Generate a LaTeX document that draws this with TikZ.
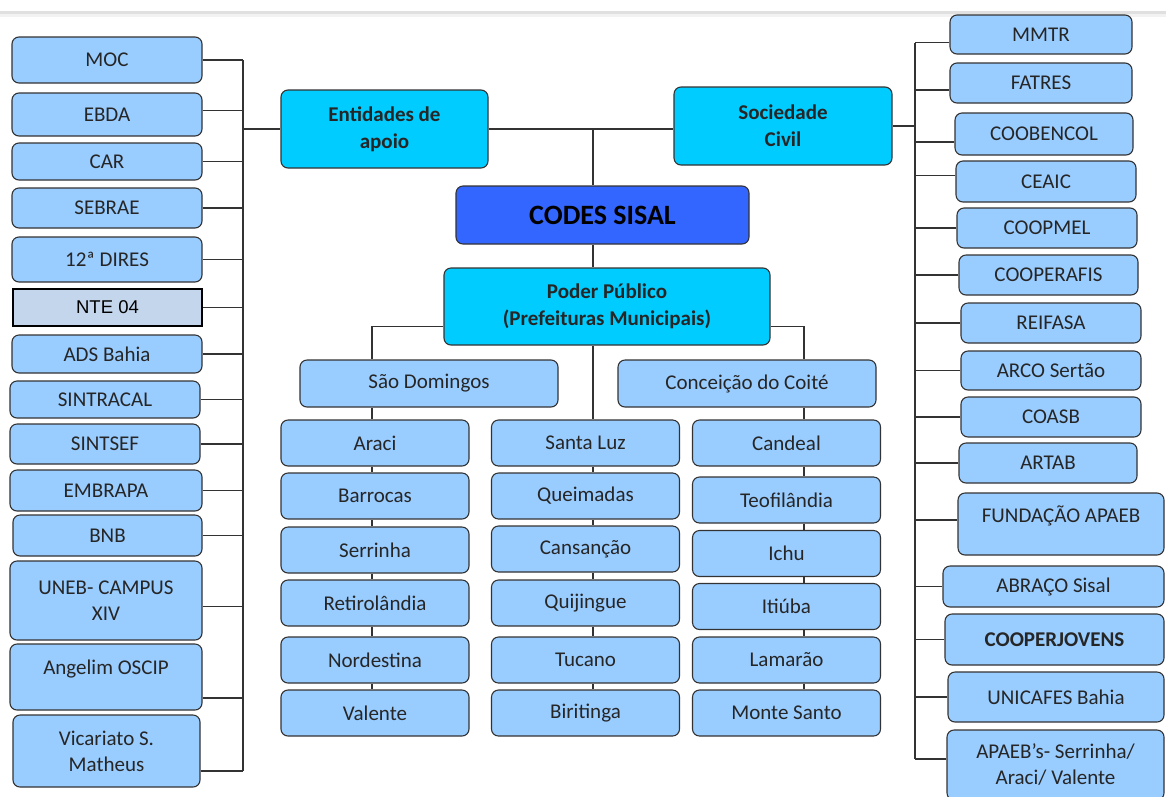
\documentclass[tikz,border=0pt]{standalone}
\usepackage{fontspec}
\setmainfont{Carlito}
\newfontfamily\arialfont{Liberation Sans}
\usepackage{xcolor}
\usepackage{tikz}
\usetikzlibrary{calc, positioning}

\definecolor{azulcaixa}{HTML}{99CCFF}
\definecolor{ciano}{HTML}{00CCFF}
\definecolor{azulcodes}{HTML}{3366FF}
\definecolor{cinzante}{HTML}{C3D6EC}

\tikzset{
    sz/.style 2 args={minimum width=#1pt, minimum height=#2pt},
    orgao/.style={draw=black!80, line width=1.1pt, rounded corners=7pt, fill=azulcaixa,
        align=center, inner sep=0pt, text=black!85, font=\fontsize{21}{26}\selectfont},
    municipio/.style={orgao, sz={188}{46}},
    eixo/.style={orgao, fill=ciano, font=\fontsize{21}{27}\selectfont\bfseries},
    lig/.style={draw=black!80, line width=1.1pt}
}

\begin{document}
\begin{tikzpicture}[x=1pt, y=-1pt]
    \useasboundingbox (0,0) rectangle (1166,796);
    \fill[white] (0,0) rectangle (1166,796);
    % Vạch xám phía trên
    \fill[black!12] (0,11) rectangle (1166,14);
    \fill[black!5] (0,14) rectangle (1166,17);

    % Trục nối
    \coordinate (lbus) at (243,0);
    \coordinate (rbus) at (915,0);
    \coordinate (topo) at (593,128);
    \coordinate (c1) at (372,0);
    \coordinate (c2) at (593,0);
    \coordinate (c3) at (804,0);

    % Khối trung tâm
    \node[eixo, sz={207}{78}] (ent) at (384.5,129) {Entidades de\\apoio};
    \node[eixo, sz={218}{78}] (soc) at (783,126) {Sociedade\\Civil};
    \node[orgao, fill=azulcodes, sz={293}{58}, font=\fontsize{28}{32}\selectfont\bfseries, text=black]
        (codes) at (602.5,215) {CODES SISAL};
    \node[eixo, sz={326}{77}] (poder) at (607,306.5) {Poder Público\\(Prefeituras Municipais)};
    \node[orgao, sz={258}{47}] (sd) at (429,383.5) {São Domingos};
    \node[orgao, sz={258}{47}] (cc) at (747,383.5) {Conceição do Coité};

    % Các huyện
    \node[municipio] (araci) at (375,443) {Araci};
    \node[municipio] (barrocas) at (375,496) {Barrocas};
    \node[municipio] (serrinha) at (375,550) {Serrinha};
    \node[municipio] (retiro) at (375,603) {Retirolândia};
    \node[municipio] (nordestina) at (375,660) {Nordestina};
    \node[municipio] (valente) at (375,713) {Valente};

    \node[municipio] (santaluz) at (585.5,443) {Santa Luz};
    \node[municipio] (queimadas) at (585.5,496) {Queimadas};
    \node[municipio] (cansancao) at (585.5,549) {Cansanção};
    \node[municipio] (quijingue) at (585.5,603) {Quijingue};
    \node[municipio] (tucano) at (585.5,660) {Tucano};
    \node[municipio] (biritinga) at (585.5,713) {Biritinga};

    \node[municipio] (candeal) at (786.5,443) {Candeal};
    \node[municipio] (teofilandia) at (786.5,500) {Teofilândia};
    \node[municipio] (ichu) at (786.5,553.5) {Ichu};
    \node[municipio] (itiuba) at (786.5,606.5) {Itiúba};
    \node[municipio] (lamarao) at (786.5,660) {Lamarão};
    \node[municipio] (montesanto) at (786.5,713) {Monte Santo};

    % Cột bên trái
    \node[orgao, sz={190}{46}] (moc) at (107,60) {MOC};
    \node[orgao, sz={190}{43}] (ebda) at (107,114.5) {EBDA};
    \node[orgao, sz={190}{37}] (car) at (107,161.5) {CAR};
    \node[orgao, sz={190}{40}] (sebrae) at (107,208) {SEBRAE};
    \node[orgao, sz={190}{45}] (dires) at (107,259.5) {12ª DIRES};
    \node[orgao, sz={189}{37}, rounded corners=0pt, fill=cinzante, draw=black, line width=1.6pt,
        font=\arialfont\fontsize{18.5}{22}\selectfont, text=black] (nte) at (107.5,307.5) {NTE 04};
    \node[orgao, sz={190}{38}] (ads) at (107,354) {ADS Bahia};
    \node[orgao, sz={190}{37}] (sintracal) at (105,399.5) {SINTRACAL};
    \node[orgao, sz={190}{40}] (sintsef) at (105,444) {SINTSEF};
    \node[orgao, sz={192}{41}] (embrapa) at (106,490.5) {EMBRAPA};
    \node[orgao, sz={189}{41}] (bnb) at (107.5,535.5) {BNB};
    \node[orgao, sz={192}{79}] (uneb) at (106,600.5) {UNEB- CAMPUS\\XIV};
    \node[orgao, sz={192}{66}] (angelim) at (106,677) {Angelim OSCIP\\[-6pt]\mbox{}};
    \node[orgao, sz={187}{72}] (vic) at (106.5,751) {Vicariato S.\\Matheus};

    % Cột bên phải
    \node[orgao, sz={182}{39}] (mmtr) at (1041,34.5) {MMTR};
    \node[orgao, sz={182}{40}] (fatres) at (1041,83) {FATRES};
    \node[orgao, sz={178}{42}] (coobencol) at (1044,134) {COOBENCOL};
    \node[orgao, sz={180}{41}] (ceaic) at (1046,181.5) {CEAIC};
    \node[orgao, sz={180}{40}] (coopmel) at (1047,228) {COOPMEL};
    \node[orgao, sz={179}{40}] (cooperafis) at (1048.5,275) {COOPERAFIS};
    \node[orgao, sz={180}{40}] (reifasa) at (1051,323) {REIFASA};
    \node[orgao, sz={180}{39}] (arco) at (1051,370.5) {ARCO Sertão};
    \node[orgao, sz={180}{40}] (coasb) at (1051,417) {COASB};
    \node[orgao, sz={178}{40}] (artab) at (1048,463) {ARTAB};
    \node[orgao, sz={206}{62}] (fundacao) at (1061,524) {FUNDAÇÃO APAEB\\[-6pt]\mbox{}};
    \node[orgao, sz={221}{41}] (abraco) at (1053.5,586.5) {ABRAÇO Sisal};
    \node[orgao, sz={219}{51}, font=\fontsize{21}{26}\selectfont\bfseries] (cooperjovens) at (1054.5,639.5) {COOPERJOVENS};
    \node[orgao, sz={216}{50}] (unicafes) at (1056,697) {UNICAFES Bahia};
    \node[orgao, sz={217}{70}] (apaeb) at (1055.5,765) {APAEB’s- Serrinha/\\Araci/ Valente};

    % Đường nối trung tâm
    \draw[lig] (ent.east) -- (ent.east -| soc.west);
    \draw[lig] (topo) -- (topo |- codes.north);
    \draw[lig] (codes.south -| c2) -- (c2 |- poder.north);
    \draw[lig] ([yshift=-20pt]poder.west) -| (c1 |- sd.north);
    \draw[lig] ([yshift=-20pt]poder.east) -| (c3 |- cc.north);
    \draw[lig] (poder.south -| c2) -- (c2 |- santaluz.north);
    \draw[lig] (sd.south -| c1) -- (c1 |- araci.north);
    \draw[lig] (cc.south -| c3) -- (c3 |- candeal.north);

    % Nối các huyện
    \draw[lig] (araci.south -| c1) -- (c1 |- barrocas.north);
    \draw[lig] (barrocas.south -| c1) -- (c1 |- serrinha.north);
    \draw[lig] (serrinha.south -| c1) -- (c1 |- retiro.north);
    \draw[lig] (retiro.south -| c1) -- (c1 |- nordestina.north);
    \draw[lig] (nordestina.south -| c1) -- (c1 |- valente.north);
    \draw[lig] (santaluz.south -| c2) -- (c2 |- queimadas.north);
    \draw[lig] (queimadas.south -| c2) -- (c2 |- cansancao.north);
    \draw[lig] (cansancao.south -| c2) -- (c2 |- quijingue.north);
    \draw[lig] (quijingue.south -| c2) -- (c2 |- tucano.north);
    \draw[lig] (tucano.south -| c2) -- (c2 |- biritinga.north);
    \draw[lig] (candeal.south -| c3) -- (c3 |- teofilandia.north);
    \draw[lig] (teofilandia.south -| c3) -- (c3 |- ichu.north);
    \draw[lig] (ichu.south -| c3) -- (c3 |- itiuba.north);
    \draw[lig] (itiuba.south -| c3) -- (c3 |- lamarao.north);
    \draw[lig] (lamarao.south -| c3) -- (c3 |- montesanto.north);

    % Nối bên trái
    \draw[lig] (ent.west) -- (ent.west -| lbus);
    \draw[lig] (moc.east -| lbus) -- ([yshift=-20pt]vic.east -| lbus);
    \draw[lig] (moc.east) -- (moc.east -| lbus);
    \draw[lig] ([yshift=4pt]ebda.east) -- ([yshift=4pt]ebda.east -| lbus);
    \draw[lig] (car.east) -- (car.east -| lbus);
    \draw[lig] (sebrae.east) -- (sebrae.east -| lbus);
    \draw[lig] (dires.east) -- (dires.east -| lbus);
    \draw[lig] (nte.east) -- (nte.east -| lbus);
    \draw[lig] (ads.east) -- (ads.east -| lbus);
    \draw[lig] (sintracal.east) -- (sintracal.east -| lbus);
    \draw[lig] (sintsef.east) -- (sintsef.east -| lbus);
    \draw[lig] (embrapa.east) -- (embrapa.east -| lbus);
    \draw[lig] (bnb.east) -- (bnb.east -| lbus);
    \draw[lig] ([yshift=-6pt]uneb.east) -- ([yshift=-6pt]uneb.east -| lbus);
    \draw[lig] ([yshift=-21pt]angelim.east) -- ([yshift=-21pt]angelim.east -| lbus);
    \draw[lig] ([yshift=-20pt]vic.east) -- ([yshift=-20pt]vic.east -| lbus);

    % Nối bên phải
    \draw[lig] (soc.east) -- (soc.east -| rbus);
    \draw[lig] ([yshift=-8pt]mmtr.west -| rbus) -- ([yshift=6pt]apaeb.west -| rbus);
    \draw[lig] ([yshift=-8pt]mmtr.west) -- ([yshift=-8pt]mmtr.west -| rbus);
    \draw[lig] ([yshift=-7pt]fatres.west) -- ([yshift=-7pt]fatres.west -| rbus);
    \draw[lig] ([yshift=-8pt]coobencol.west) -- ([yshift=-8pt]coobencol.west -| rbus);
    \draw[lig] ([yshift=6pt]ceaic.west) -- ([yshift=6pt]ceaic.west -| rbus);
    \draw[lig] (coopmel.west) -- (coopmel.west -| rbus);
    \draw[lig] (cooperafis.west) -- (cooperafis.west -| rbus);
    \draw[lig] (reifasa.west) -- (reifasa.west -| rbus);
    \draw[lig] (arco.west) -- (arco.west -| rbus);
    \draw[lig] (coasb.west) -- (coasb.west -| rbus);
    \draw[lig] (artab.west) -- (artab.west -| rbus);
    \draw[lig] ([yshift=4pt]fundacao.west) -- ([yshift=4pt]fundacao.west -| rbus);
    \draw[lig] (abraco.west) -- (abraco.west -| rbus);
    \draw[lig] (cooperjovens.west) -- (cooperjovens.west -| rbus);
    \draw[lig] (unicafes.west) -- (unicafes.west -| rbus);
    \draw[lig] ([yshift=6pt]apaeb.west) -- ([yshift=6pt]apaeb.west -| rbus);
\end{tikzpicture}
\end{document}
